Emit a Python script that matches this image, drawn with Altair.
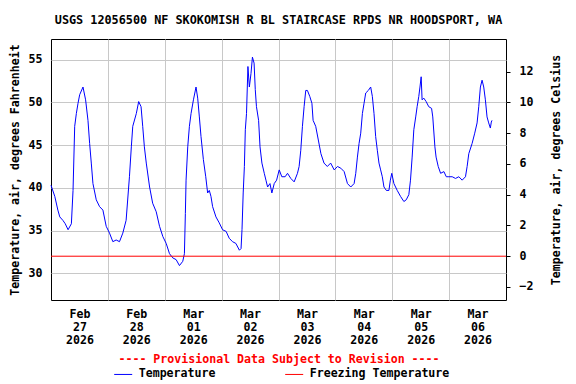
import altair as alt
import pandas as pd

# ---- data (hours since Feb 27 2026 00:00, deg F) ----
hours = [0, 1.6, 2.9, 3.7, 5, 6, 7.2, 8.6, 9.3, 10, 10.7, 11.4, 12.1, 13.5, 14.6, 15.6,
         16.3, 17, 17.7, 19.1, 20.5, 21.9, 23.3, 24.7, 26.1, 27.5, 28.9, 30.3, 31.7,
         33.1, 33.9, 34.5, 36, 37, 38, 38.7, 39.4, 40.2, 41.6, 42.9, 44.4, 45.8, 47.2,
         48.6, 50, 51.4, 52.8, 54.2, 55.6, 56.3, 56.7, 57, 57.7, 58.4, 59.1, 60.1, 61.2,
         61.9, 62.6, 63.3, 64.3, 65.3, 66.1, 66.8, 67.5, 68.2, 69.6, 71, 72.4, 73.9,
         75.2, 76.6, 78, 79.5, 80.2, 80.6, 81.1, 81.6, 82, 82.5, 83.1, 83.7, 84.4, 85,
         85.7, 86.2, 86.7, 87.6, 88.2, 89, 90, 90.7, 91.4, 92.4, 93.2, 94.2, 95.2, 96.3,
         97.4, 98.8, 99.8, 101.2, 102.6, 104, 104.7, 105.4, 106.1, 106.8, 107.5, 108.2,
         109.2, 110.1, 110.6, 111.7, 112.8, 113.9, 115.2, 116.6, 118, 119.5, 120.9,
         122.3, 123.7, 125.1, 126.5, 127.9, 128.6, 129.3, 130, 130.7, 131.4, 132.1,
         132.8, 133.9, 134.9, 135.6, 136.3, 137, 137.7, 138.4, 139.1, 139.8, 140.5,
         141.5, 142.6, 143.2, 143.8, 144.7, 146.1, 147.5, 148.9, 149.9, 151, 151.7,
         152.4, 153.1, 153.9, 154.5, 155.2, 155.7, 156.2, 156.6, 157.3, 158.3, 159.4,
         160.6, 161.1, 162, 162.5, 163.4, 164.4, 165.8, 166.8, 167.9, 169.3, 170.7,
         172.1, 173.5, 174.9, 175.6, 176.3, 177.7, 178.8, 179.8, 180.5, 181.2, 181.9,
         182.6, 183.3, 184, 184.7, 185.4, 185.8, 186.1]
temp_f = [40.3, 39.0, 37.4, 36.6, 36.2, 35.8, 35.1, 35.8, 39.7, 47.2, 48.7, 49.9, 50.9,
          51.8, 50.3, 47.9, 45.2, 42.9, 40.5, 38.6, 37.8, 37.4, 35.5, 34.7, 33.7, 33.9,
          33.7, 34.7, 36.2, 41.3, 44.8, 47.2, 48.7, 50.1, 49.5, 47.2, 44.8, 42.9, 40.1,
          38.2, 37.2, 35.5, 34.3, 33.5, 32.3, 31.8, 31.6, 30.9, 31.4, 32.3, 37.0, 40.9,
          44.8, 47.2, 48.7, 50.3, 51.8, 50.5, 48.3, 46.0, 43.3, 41.3, 39.4, 39.7, 39.0,
          37.8, 36.6, 35.9, 35.1, 34.9, 34.1, 33.7, 33.5, 32.7, 32.9, 35.1, 39.4, 42.5,
          46.8, 48.7, 54.2, 51.8, 53.4, 55.3, 54.6, 51.5, 49.5, 47.9, 44.8, 42.9, 41.7,
          40.9, 40.1, 40.5, 39.4, 40.5, 40.9, 42.1, 41.3, 41.3, 41.7, 41.1, 40.7, 41.7,
          42.5, 44.4, 47.2, 49.5, 51.4, 51.4, 50.7, 49.9, 47.9, 47.2, 45.6, 44.0, 42.9,
          42.5, 42.9, 42.1, 42.5, 42.3, 41.9, 40.5, 40.1, 40.5, 41.7, 43.6, 45.2, 46.4,
          48.7, 49.9, 51.1, 51.4, 51.8, 50.7, 48.7, 46.0, 44.4, 42.9, 42.1, 41.3, 40.1,
          39.7, 39.7, 40.9, 41.7, 40.5, 39.7, 39.0, 38.4, 38.6, 39.2, 40.9, 43.6, 46.8,
          48.3, 49.5, 50.7, 51.8, 53.0, 50.3, 50.5, 50.1, 49.5, 49.3, 48.3, 44.8, 43.6,
          42.5, 41.7, 41.9, 41.3, 41.3, 41.3, 41.1, 41.3, 40.9, 41.3, 42.5, 44.0, 45.2,
          46.4, 47.6, 49.5, 51.8, 52.6, 51.8, 50.3, 48.3, 47.6, 47.0, 47.7, 47.9]

freeze_hours = [0, 192]
freeze_c = [0, 0]

series_names = ["Temperature", "Freezing Temperature"]
series_colors = ["#0000ff", "#ff0000"]

month_labels = ["Feb", "Feb", "Mar", "Mar", "Mar", "Mar", "Mar", "Mar"]
day_labels = ["27", "28", "01", "02", "03", "04", "05", "06"]
year_labels = ["2026"] * 8
label_hours = [12, 36, 60, 84, 108, 132, 156, 180]
grid_hours = [24, 48, 72, 96, 120, 144, 168]
f_ticks = [30, 35, 40, 45, 50, 55]
c_ticks = [-2, 0, 2, 4, 6, 8, 10, 12]
f_domain = [26.875, 57.42]
c_domain = [(v - 32) * 5 / 9 for v in f_domain]

title_text = "USGS 12056500 NF SKOKOMISH R BL STAIRCASE RPDS NR HOODSPORT, WA"
FONT = "DejaVu Sans Mono"
FS = 11.6
GRID = "#c8c8c8"

temp_df = pd.DataFrame({"hour": hours, "value": temp_f, "series": series_names[0]})
freeze_df = pd.DataFrame({"hour": freeze_hours, "value": freeze_c, "series": series_names[1]})

arr = "[" + ",".join(
    "['%s','%s','%s']" % (m, d, y) for m, d, y in zip(month_labels, day_labels, year_labels)
) + "]"
label_expr = arr + "[floor(datum.value/24)]"

xscale = alt.Scale(domain=[0, 192], nice=False, zero=False)

color = alt.Color(
    "series:N",
    scale=alt.Scale(domain=series_names, range=series_colors),
    legend=alt.Legend(
        title=None, orient="none", legendX=62.7, legendY=325.5,
        direction="horizontal", columns=2, symbolType="stroke",
        symbolSize=324, symbolStrokeWidth=1, labelOffset=6, columnPadding=67,
        padding=0, labelFont=FONT, labelFontSize=FS, labelFontWeight="bold",
        labelColor="black", labelLimit=300,
    ),
)

temp_line = alt.Chart(temp_df).mark_line(strokeWidth=1).encode(
    x=alt.X("hour:Q", scale=xscale, axis=alt.Axis(
        values=label_hours, labelExpr=label_expr, grid=False, ticks=False, domain=False,
        labelFlush=False, labelOverlap=False, labelPadding=8, labelLineHeight=13,
        title="---- Provisional Data Subject to Revision ----", titleColor="#ff0000",
        titlePadding=8)),
    y=alt.Y("value:Q", scale=alt.Scale(domain=f_domain, nice=False, zero=False),
            axis=alt.Axis(values=f_ticks, grid=True, gridColor=GRID, ticks=False,
                          domain=False, labelPadding=9,
                          title="Temperature, air, degrees Fahrenheit", titlePadding=8)),
    color=color,
)

freeze_line = alt.Chart(freeze_df).mark_line(strokeWidth=1).encode(
    x=alt.X("hour:Q", scale=xscale, axis=alt.Axis(
        orient="top", values=grid_hours, labels=False, ticks=False, domain=False,
        grid=True, gridColor=GRID, title=None)),
    y=alt.Y("value:Q", scale=alt.Scale(domain=c_domain, nice=False, zero=False),
            axis=alt.Axis(orient="right", values=c_ticks, grid=False, tickSize=4,
                          tickColor="black", domain=False, labelPadding=9,
                          labelAlign="left",
                          title="Temperature, air, degrees Celsius", titleAngle=270,
                          titlePadding=29)),
    color=color,
)

chart = alt.layer(temp_line, freeze_line).resolve_scale(
    y="independent"
).resolve_axis(
    x="independent", y="independent"
).properties(
    width=455, height=261,
    padding={"left": 43, "top": 31, "right": 62, "bottom": 81},
    autosize=alt.AutoSizeParams(type="none"),
    title=alt.TitleParams(text=title_text, font=FONT, fontSize=11.8, fontWeight="bold",
                          color="black", offset=12),
).configure_view(
    stroke="black", strokeWidth=1
).configure_axis(
    labelFont=FONT, labelFontSize=FS, labelFontWeight="bold", labelColor="black",
    titleFont=FONT, titleFontSize=FS, titleFontWeight="bold", titleColor="black",
)

chart.save("out.html", embed_options={"renderer": "svg", "actions": False})
